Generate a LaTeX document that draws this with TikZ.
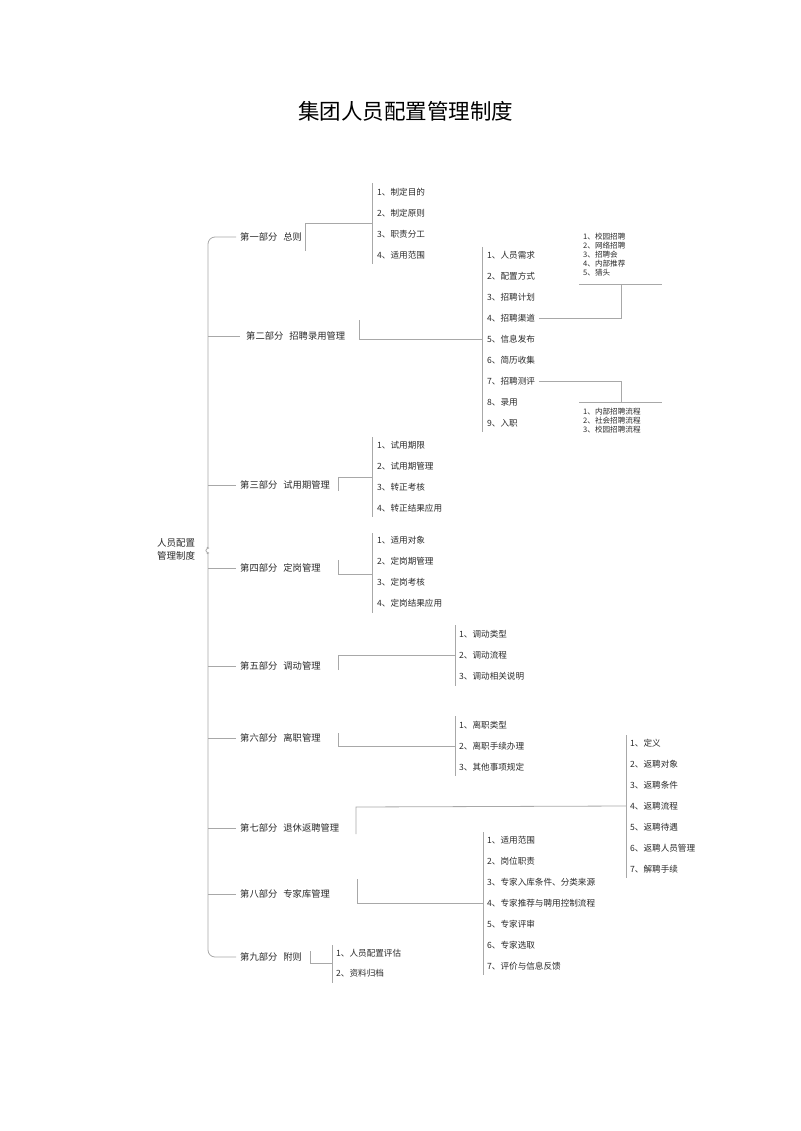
\documentclass[tikz,border=0pt]{standalone}
\usepackage{fontspec}
\setmainfont{Noto Sans CJK SC}
\definecolor{lncol}{HTML}{A8A8A8}
\definecolor{txcol}{HTML}{2A2A2A}
\begin{document}
\begin{tikzpicture}[x=1pt,y=-1pt,
  ln/.style={draw=lncol, line width=0.8pt},
  itm/.style={anchor=west, inner sep=0pt, text=txcol, font=\fontsize{8.6}{10}\selectfont},
  prt/.style={anchor=west, inner sep=0pt, text=txcol, font=\fontsize{9.3}{11}\selectfont},
  sml/.style={anchor=west, inner sep=0pt, text=txcol, font=\fontsize{7.6}{9}\selectfont},
  ttl/.style={inner sep=0pt, text=black, font=\fontsize{21.5}{24}\selectfont},
  rootnode/.style={inner sep=0pt, text=txcol, align=center, font=\fontsize{9.5}{13}\selectfont}]
\useasboundingbox (0,0) rectangle (800,1131);

% title
\node[ttl] (title) at (405.5,111) {集团人员配置管理制度};

% root
\node[rootnode] (root) at (176,549.5) {人员配置\\管理制度};

% trunk with brace
\coordinate (tTop) at (236,237);
\coordinate (tBot) at (236,957);
\draw[ln, rounded corners=7] (tTop) -- (208,237) -- (208,540)
  .. controls (208,546) and (206,549) .. (202,550.5)
  .. controls (206,552) and (208,555) .. (208,561) -- (208,957) -- (tBot);

% part labels
\node[prt] (p1) at (240,237) {第一部分\hspace{6pt}总则};
\node[prt] (p2) at (246,336) {第二部分\hspace{6pt}招聘录用管理};
\node[prt] (p3) at (240,485) {第三部分\hspace{6pt}试用期管理};
\node[prt] (p4) at (240,568) {第四部分\hspace{6pt}定岗管理};
\node[prt] (p5) at (240,666) {第五部分\hspace{6pt}调动管理};
\node[prt] (p6) at (240,738) {第六部分\hspace{6pt}离职管理};
\node[prt] (p7) at (240,828) {第七部分\hspace{6pt}退休返聘管理};
\node[prt] (p8) at (240,894) {第八部分\hspace{6pt}专家库管理};
\node[prt] (p9) at (240,957) {第九部分\hspace{6pt}附则};

% trunk branches
\foreach \p/\y/\x in {p2/336/240, p3/485/236, p4/568/236, p5/666/236, p6/738/236, p7/828/236, p8/894/236} {
  \coordinate (\p t) at (208,\y);
  \coordinate (\p e) at (\x,\y);
  \draw[ln] (\p t) -- (\p e);
}

% item lists
\foreach \t [count=\i] in {1、制定目的,2、制定原则,3、职责分工,4、适用范围}
  \node[itm] (a\i) at (377,171+21*\i) {\t};
\foreach \t [count=\i] in {1、人员需求,2、配置方式,3、招聘计划,4、招聘渠道,5、信息发布,6、简历收集,7、招聘测评,8、录用,9、入职}
  \node[itm] (b\i) at (487,234+21*\i) {\t};
\foreach \t [count=\i] in {1、试用期限,2、试用期管理,3、转正考核,4、转正结果应用}
  \node[itm] (c\i) at (377,424+21*\i) {\t};
\foreach \t [count=\i] in {1、适用对象,2、定岗期管理,3、定岗考核,4、定岗结果应用}
  \node[itm] (d\i) at (377,519+21*\i) {\t};
\foreach \t [count=\i] in {1、调动类型,2、调动流程,3、调动相关说明}
  \node[itm] (e\i) at (459,613+21*\i) {\t};
\foreach \t [count=\i] in {1、离职类型,2、离职手续办理,3、其他事项规定}
  \node[itm] (f\i) at (459,704+21*\i) {\t};
\foreach \t [count=\i] in {1、定义,2、返聘对象,3、返聘条件,4、返聘流程,5、返聘待遇,6、返聘人员管理,7、解聘手续}
  \node[itm] (g\i) at (630,722+21*\i) {\t};
\foreach \t [count=\i] in {1、适用范围,2、岗位职责,3、专家入库条件、分类来源,4、专家推荐与聘用控制流程,5、专家评审,6、专家选取,7、评价与信息反馈}
  \node[itm] (h\i) at (487,819+21*\i) {\t};
\foreach \t [count=\i] in {1、人员配置评估,2、资料归档}
  \node[itm] (k\i) at (336,933+20*\i) {\t};

% small sub-lists
\foreach \t [count=\i] in {1、校园招聘,2、网络招聘,3、招聘会,4、内部推荐,5、猎头}
  \node[sml] (s\i) at (583,228+9*\i) {\t};
\foreach \t [count=\i] in {1、内部招聘流程,2、社会招聘流程,3、校园招聘流程}
  \node[sml] (r\i) at (583,403+8.7*\i) {\t};

% child bars (top, bottom)
\draw[ln] (372,183) coordinate (aT) -- (372,264) coordinate (aB);
\draw[ln] (482,247) coordinate (bT) -- (482,432) coordinate (bB);
\draw[ln] (372,437) coordinate (cT) -- (372,517) coordinate (cB);
\draw[ln] (372,533) coordinate (dT) -- (372,613) coordinate (dB);
\draw[ln] (455,625) coordinate (eT) -- (455,686) coordinate (eB);
\draw[ln] (455,716) coordinate (fT) -- (455,776) coordinate (fB);
\draw[ln] (626,735) coordinate (gT) -- (626,878) coordinate (gB);
\draw[ln] (483,832) coordinate (hT) -- (483,975) coordinate (hB);
\draw[ln] (332,945) coordinate (kT) -- (332,983) coordinate (kB);

% elbows from parts to their lists
\coordinate (p1v) at (305,251);
\draw[ln] (p1v) -- (305,223) -- (aT |- 0,223);
\coordinate (p2v) at (359,320);
\draw[ln] (p2v) -- (359,339) -- (bT |- b5);
\coordinate (p3v) at (338,491);
\draw[ln] (p3v) -- (338,477) -- (cT |- 0,477);
\coordinate (p4v) at (338,560);
\draw[ln] (p4v) -- (338,574) -- (dT |- 0,574);
\coordinate (p5v) at (338,670);
\draw[ln] (p5v) -- (338,655) -- (eT |- e2);
\coordinate (p6v) at (338,733);
\draw[ln] (p6v) -- (338,746) -- (fT |- f2);
\coordinate (p7v) at (356,834);
\draw[ln] (p7v) -- (356,807) -- (gT |- g4);
\coordinate (p8v) at (357,879);
\draw[ln] (p8v) -- (357,903) -- (hT |- h4);
\coordinate (p9v) at (310,951);
\draw[ln] (p9v) -- (310,963) -- (kT |- 0,963);

% sub-list connectors
\draw[ln] ([xshift=4pt]b4.east) -- (621,318) -- (621,284);
\draw[ln] (579,284) coordinate (sL) -- (662,284) coordinate (sR);
\draw[ln] ([xshift=4pt]b7.east) -- (621,381) -- (621,402);
\draw[ln] (579,402) coordinate (rL) -- (662,402) coordinate (rR);
\end{tikzpicture}
\end{document}
